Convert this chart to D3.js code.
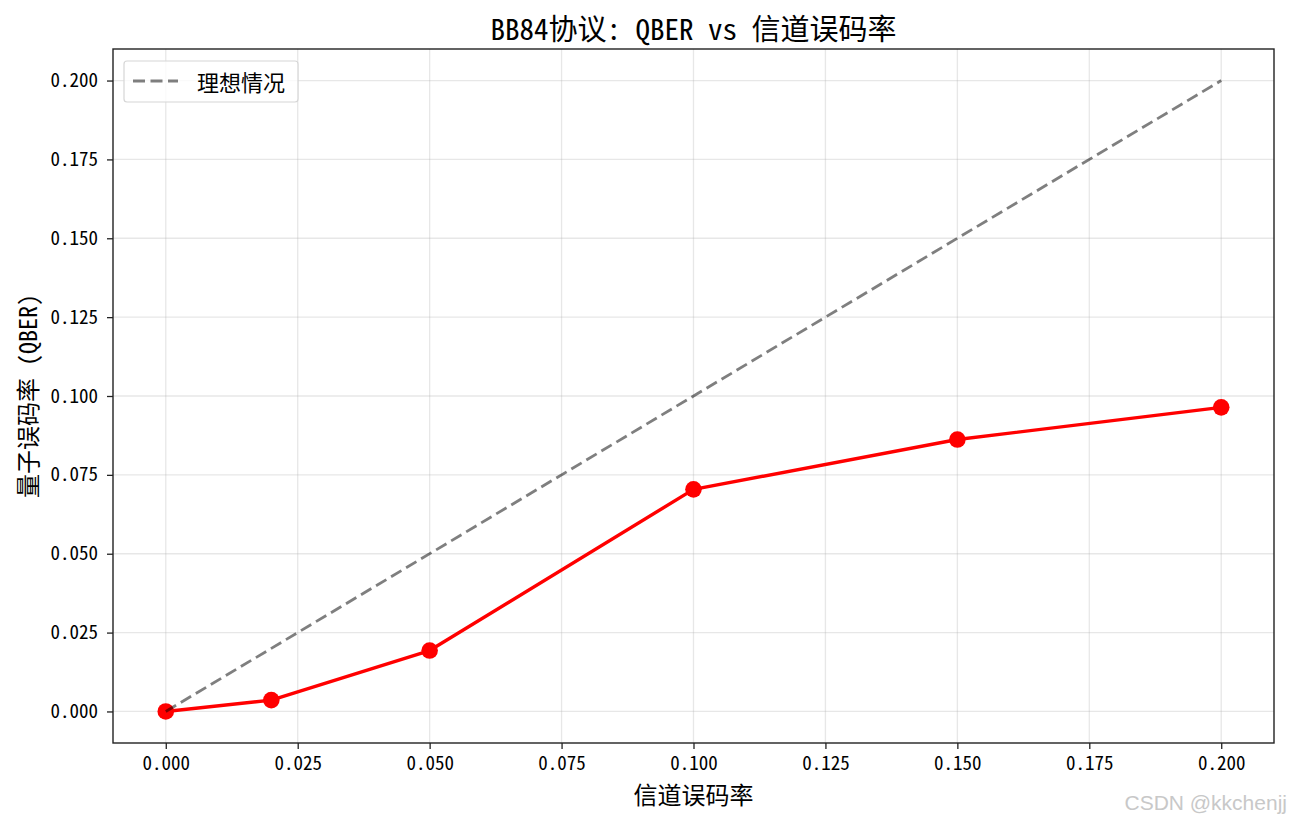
<!DOCTYPE html>
<html><head><meta charset="utf-8">
<script src="https://cdn.jsdelivr.net/npm/d3@7"></script>
<style>body{margin:0;background:#fff;} text{font-family:"Noto Sans Mono CJK SC","Noto Sans CJK SC","DejaVu Sans Mono",monospace;}</style>
</head><body>
<svg id="c" width="1290" height="822"></svg>
<script>
const channelError = [0, 0.02, 0.05, 0.1, 0.15, 0.2];
const qber = [0, 0.0036, 0.0193, 0.0704, 0.0862, 0.0964];
const idealX = [0, 0.2];
const idealY = [0, 0.2];
const tickValues = [0, 0.025, 0.05, 0.075, 0.1, 0.125, 0.15, 0.175, 0.2];
const title = "BB84协议: QBER vs 信道误码率";
const xLabel = "信道误码率";
const yLabel = "量子误码率 (QBER)";
const legendLabel = "理想情况";

const svg = d3.select("#c");
const L = 113, R = 1274, T = 49, B = 743;
const x = d3.scaleLinear().domain([-0.01, 0.21]).range([L, R]);
const y = d3.scaleLinear().domain([-0.01, 0.21]).range([B, T]);
const fmt = d3.format(".3f");

// grid
const g = svg.append("g");
g.selectAll(".gx").data(tickValues).join("line")
  .attr("x1", d => x(d)).attr("x2", d => x(d)).attr("y1", T).attr("y2", B)
  .attr("stroke", "#b0b0b0").attr("stroke-opacity", 0.3).attr("stroke-width", 1.3);
g.selectAll(".gy").data(tickValues).join("line")
  .attr("y1", d => y(d)).attr("y2", d => y(d)).attr("x1", L).attr("x2", R)
  .attr("stroke", "#b0b0b0").attr("stroke-opacity", 0.3).attr("stroke-width", 1.3);

// data line
const pts = channelError.map((d, i) => [d, qber[i]]);
svg.append("path").datum(pts)
  .attr("d", d3.line().x(d => x(d[0])).y(d => y(d[1])))
  .attr("fill", "none").attr("stroke", "#ff0000").attr("stroke-width", 3.4)
  .attr("stroke-linejoin", "round");
svg.selectAll(".pt").data(pts).join("circle")
  .attr("cx", d => x(d[0])).attr("cy", d => y(d[1])).attr("r", 8.3).attr("fill", "#ff0000");

// ideal line (drawn on top, semi-transparent black)
svg.append("path").datum(idealX.map((d, i) => [d, idealY[i]]))
  .attr("d", d3.line().x(d => x(d[0])).y(d => y(d[1])))
  .attr("fill", "none").attr("stroke", "#000").attr("stroke-opacity", 0.5).attr("stroke-width", 2.8)
  .attr("stroke-dasharray", "12,5.5");

// axes
const xa = svg.append("g").attr("transform", `translate(0,${B})`)
  .call(d3.axisBottom(x).tickValues(tickValues).tickFormat(fmt).tickSize(6).tickPadding(8));
const ya = svg.append("g").attr("transform", `translate(${L},0)`)
  .call(d3.axisLeft(y).tickValues(tickValues).tickFormat(fmt).tickSize(6).tickPadding(9));
[xa, ya].forEach(a => {
  a.select(".domain").remove();
  a.selectAll(".tick line").attr("stroke", "#222").attr("stroke-width", 1.3);
  a.selectAll(".tick text").attr("font-size", 19).attr("fill", "#000")
    .style("font-family", "'Noto Sans Mono CJK SC','Noto Sans CJK SC',monospace");
});

// frame
svg.append("rect").attr("x", L).attr("y", T).attr("width", R - L).attr("height", B - T)
  .attr("fill", "none").attr("stroke", "#222").attr("stroke-width", 1.4);

// title & labels
svg.append("text").attr("x", (L + R) / 2).attr("y", 40).attr("text-anchor", "middle")
  .attr("font-size", 29).text(title);
svg.append("text").attr("x", (L + R) / 2).attr("y", 804).attr("text-anchor", "middle")
  .attr("font-size", 24).text(xLabel);
svg.append("text").attr("transform", `translate(37,${(T + B) / 2}) rotate(-90)`)
  .attr("text-anchor", "middle").attr("font-size", 24).text(yLabel);

// legend
const lg = svg.append("g");
lg.append("rect").attr("x", 124).attr("y", 61).attr("width", 174).attr("height", 41).attr("rx", 3)
  .attr("fill", "#fff").attr("fill-opacity", 0.8).attr("stroke", "#d6d6d6").attr("stroke-width", 1.2);
lg.append("line").attr("x1", 133).attr("x2", 178).attr("y1", 81).attr("y2", 81)
  .attr("stroke", "#000").attr("stroke-opacity", 0.5).attr("stroke-width", 2.8).attr("stroke-dasharray", "12,5.5");
lg.append("text").attr("x", 197).attr("y", 91).attr("font-size", 22).text(legendLabel);

// watermark
svg.append("text").attr("x", 1287).attr("y", 810).attr("text-anchor", "end")
  .attr("font-size", 21).attr("fill", "#c8c8c8")
  .style("font-family", "'Liberation Sans', Arial, sans-serif").text("CSDN @kkchenjj");
</script>
</body></html>
